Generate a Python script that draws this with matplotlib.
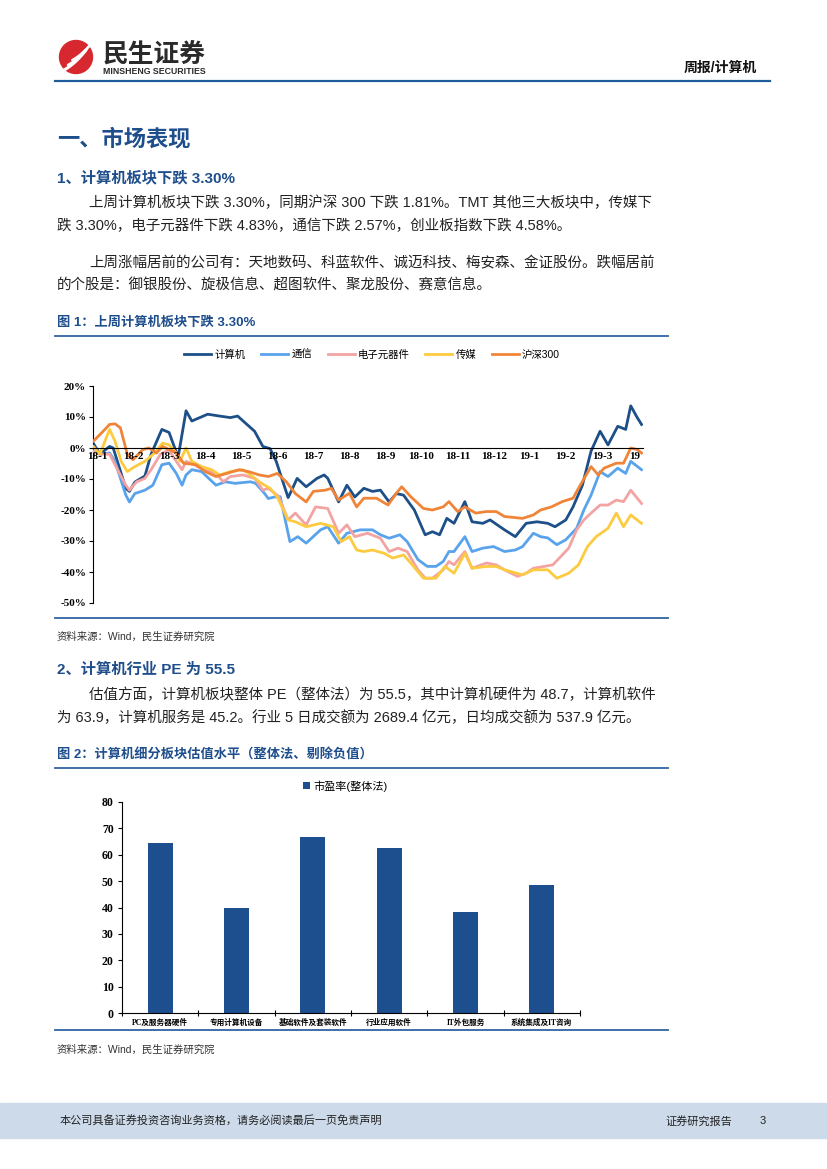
import matplotlib
matplotlib.use("Agg")
import matplotlib.pyplot as plt
import numpy as np
from matplotlib.patches import Circle, Rectangle

# ---------------------------------------------------------------- data
months = ["18-1", "18-2", "18-3", "18-4", "18-5", "18-6", "18-7", "18-8", "18-9",
          "18-10", "18-11", "18-12", "19-1", "19-2", "19-3", "19"]

# 计算机
jsj_m = [-0.1, 0.08, 0.35, 0.45, 0.8, 0.9, 1.05, 1.33, 1.5, 1.8, 2.0, 2.25, 2.47, 2.63, 3.07,
         3.4, 3.7, 3.9, 4.37, 4.6, 4.8, 4.97, 5.3, 5.4, 5.55, 5.8, 6.1, 6.3, 6.4, 6.7, 6.93,
         7.15, 7.4, 7.64, 7.86, 8.1, 8.3, 8.5, 8.8, 9.1, 9.3, 9.5, 9.7, 9.9, 10.2, 10.4, 10.7,
         10.9, 11.3, 11.6, 11.9, 12.2, 12.5, 12.7, 13.0, 13.2, 13.46, 13.7, 13.95, 14.17,
         14.44, 14.66, 14.8, 14.98, 15.1]
jsj_v = [1.5, -2, 0.5, 0, -13, -14, -11, -9, -2, 6, 5, -3, 12, 8.7, 10.9, 10.3, 9.8, 10.3,
         5.4, 0.5, -0.2, -4.3, -16, -13.6, -9.8, -12.5, -9.8, -8.7, -9.8, -17.4, -12, -15.8,
         -13, -14, -13.6, -17.4, -14.7, -15.2, -20, -28, -27, -28, -22.7, -24.3, -17.3, -23.8,
         -24.3, -23.2, -26.4, -28.6, -24.3, -23.8, -24.3, -25.4, -23.2, -19, -12, -1, 5.4, 1,
         7, 6, 13.6, 9.8, 7.6]

# 通信
tx_m = [-0.1, 0.08, 0.35, 0.5, 0.8, 0.9, 1.05, 1.33, 1.55, 1.8, 2.0, 2.2, 2.36, 2.47, 2.63,
        2.9, 3.1, 3.3, 3.56, 3.83, 4.26, 4.4, 4.65, 4.75, 4.92, 5.08, 5.35, 5.57, 5.8, 6.2,
        6.4, 6.7, 6.93, 7.3, 7.64, 7.86, 8.1, 8.4, 8.6, 8.9, 9.16, 9.4, 9.6, 9.76, 9.9, 10.2,
        10.4, 10.7, 11.0, 11.3, 11.6, 11.8, 12.1, 12.3, 12.5, 12.75, 13.0, 13.3, 13.5, 13.7,
        13.95, 14.17, 14.44, 14.66, 14.8, 15.1]
tx_v = [-1, -2, -1.6, -4.3, -15.2, -17.4, -14.7, -13.6, -12, -5.4, -4.9, -8.2, -12, -8.7,
        -7, -7.6, -9.8, -12, -10.9, -11.4, -10.9, -11.4, -14.7, -16.3, -15.8, -15.7, -30.2,
        -28.6, -30.7, -26.4, -25.4, -30.7, -27.5, -26.4, -26.4, -28, -29.1, -28, -30.2, -36,
        -38.2, -38.2, -36.6, -33.4, -33.4, -28.6, -33.4, -32.3, -31.8, -33.4, -32.9, -31.8,
        -27.5, -28.6, -29, -31.2, -29.6, -25.9, -20, -15.2, -7.6, -9.2, -6.5, -8.2, -4.3, -7]

# 电子元器件
dz_m = [-0.1, 0.08, 0.35, 0.5, 0.8, 0.9, 1.1, 1.33, 1.5, 1.76, 2.0, 2.14, 2.36, 2.47, 2.7,
        2.96, 3.3, 3.5, 3.7, 4.05, 4.37, 4.6, 4.75, 5.03, 5.3, 5.5, 5.8, 6.06, 6.4, 6.7,
        6.93, 7.15, 7.5, 7.86, 8.1, 8.35, 8.6, 8.9, 9.1, 9.3, 9.6, 9.76, 9.9, 10.2, 10.4,
        10.8, 11.07, 11.3, 11.66, 11.9, 12.1, 12.4, 12.64, 12.86, 13.08, 13.3, 13.5, 13.7,
        13.95, 14.17, 14.4, 14.6, 14.8, 15.1]
dz_v = [-1, -2, -2, -5.4, -12, -13.6, -10.9, -9.8, -7, -2, -0.5, -3.3, -7, -4.3, -5.4, -7,
        -8.2, -10.9, -9.2, -8.7, -9.8, -13.6, -13, -15.5, -23.2, -21, -24.8, -19, -19.5,
        -27.5, -24.8, -28.6, -27.5, -29.1, -33.4, -32.3, -33.4, -39.3, -42, -42, -39.3,
        -36.6, -37.7, -33.4, -38.8, -37.1, -37.7, -39.3, -41.4, -40.4, -38.8, -38.2, -37.7,
        -35, -32.3, -26.4, -23.2, -21, -18.4, -18.4, -16.8, -17.3, -13.6, -17.9]

# 传媒
cm_m = [-0.1, 0.08, 0.35, 0.5, 0.67, 0.84, 1.05, 1.33, 1.6, 1.82, 2.0, 2.2, 2.3, 2.47, 2.63,
        2.9, 3.18, 3.4, 3.7, 4.05, 4.26, 4.5, 4.65, 4.8, 5.0, 5.3, 5.5, 5.8, 6.2, 6.55, 6.77,
        7.0, 7.2, 7.4, 7.64, 7.97, 8.2, 8.5, 8.7, 9.05, 9.4, 9.65, 9.9, 10.2, 10.4, 10.8,
        11.07, 11.3, 11.8, 12.1, 12.5, 12.75, 13.08, 13.35, 13.6, 13.84, 14.17, 14.4, 14.6,
        14.8, 15.1]
cm_v = [0.5, -2, 6, 2.2, -4.3, -7.6, -6, -4.3, -1.6, 1.6, 1, -1.6, -4.3, 0, -4.3, -6, -7,
        -8.7, -7.6, -7, -8.7, -10.9, -12, -13, -15.8, -23.2, -23.8, -25.4, -24.3, -25.4,
        -30.2, -28.6, -32.9, -33.4, -32.9, -34, -35.5, -34.5, -37.1, -42, -42, -38.2, -40.4,
        -34, -38.8, -38.2, -38.2, -39.3, -40.9, -39.3, -39.3, -42, -40.4, -37.7, -31.8,
        -28.6, -25.9, -21, -25.4, -21.6, -24.3]

# 沪深300
hs_m = [-0.1, 0.13, 0.35, 0.5, 0.65, 0.84, 1.0, 1.27, 1.44, 1.65, 1.82, 2.0, 2.2, 2.4, 2.74,
        3.0, 3.3, 3.6, 3.94, 4.2, 4.5, 4.75, 5.0, 5.25, 5.5, 5.8, 6.0, 6.33, 6.5, 6.7, 7.0,
        7.2, 7.4, 7.75, 8.07, 8.3, 8.45, 8.7, 9.05, 9.3, 9.6, 9.76, 10.0, 10.2, 10.5, 10.8,
        11.07, 11.3, 11.8, 12.1, 12.3, 12.6, 12.9, 13.2, 13.4, 13.7, 13.9, 14.06, 14.4, 14.6,
        14.8, 14.98, 15.1]
hs_v = [2.2, 4.9, 7.6, 7.8, 6.5, -2, -3.8, -0.5, 0, -1.6, 0.5, -0.5, -1.6, -4.9, -5.4, -7.6,
        -9.2, -8.2, -7, -7.6, -8.7, -9.2, -8.2, -10.9, -14.7, -17.4, -14, -13.6, -13, -16.8,
        -14.6, -19, -16.2, -16.2, -18.4, -14.6, -12.5, -15.7, -19.5, -20, -19, -17.3, -20.5,
        -19, -21, -20.5, -20.5, -22.1, -22.7, -21.6, -20, -19, -17.3, -16.2, -12, -6, -8.7,
        -6.5, -4.9, -4.9, 0, -0.5, -1.6]

pe_cats = ["PC及服务器硬件", "专用计算机设备", "基础软件及套装软件", "行业应用软件",
           "IT外包服务", "系统集成及IT咨询"]
pe_vals = [64.6, 39.7, 66.6, 62.4, 38.3, 48.7]

# ---------------------------------------------------------------- page
W, H = 827, 1169
CJK = ["Liberation Sans", "Noto Sans CJK SC", "DejaVu Sans"]
SERIF = ["Liberation Serif", "Noto Sans CJK SC"]
BLUE = "#1F4E8C"
LINE = "#2F64A0"

fig = plt.figure(figsize=(W / 100, H / 100), dpi=100)
bg = fig.add_axes([0, 0, 1, 1])
bg.set_xlim(0, W)
bg.set_ylim(H, 0)
bg.axis("off")

# logo
bg.add_patch(Circle((76, 57), 16.5, color="#D7282F"))
t = np.linspace(0, 1, 30)
for k in range(3):
    xs = 64 + 4 * k + 22 * t
    ys = 70 - 2 * k - 20 * t + 8 * t * (1 - t)
    bg.plot(xs, ys - 3 * k, color="white", lw=2.2 - 0.4 * k, solid_capstyle="round")
bg.text(103, 54, "民生证券", fontsize=18.5, fontweight="bold", family=CJK,
        color="#2A2A2A", va="center")
bg.text(103, 72, "MINSHENG SECURITIES", fontsize=6.3, fontweight="bold", family=CJK,
        color="#2A2A2A", va="center")
bg.text(757, 68, "周报/计算机", fontsize=10, fontweight="bold", family=CJK,
        color="#111111", va="center", ha="right")
bg.plot([55, 770], [81, 81], color="#1F5C99", lw=1.6)

# headings and body
bg.text(57, 140, "一、市场表现", fontsize=16, fontweight="bold", family=CJK,
        color=BLUE, va="center")
bg.text(57, 178, "1、计算机板块下跌 3.30%", fontsize=11, fontweight="bold", family=CJK,
        color=BLUE, va="center")
body1 = ["上周计算机板块下跌 3.30%，同期沪深 300 下跌 1.81%。TMT 其他三大板块中，传媒下",
         "跌 3.30%，电子元器件下跌 4.83%，通信下跌 2.57%，创业板指数下跌 4.58%。",
         "上周涨幅居前的公司有：天地数码、科蓝软件、诚迈科技、梅安森、金证股份。跌幅居前",
         "的个股是：御银股份、旋极信息、超图软件、聚龙股份、赛意信息。"]
for txt, x, y in zip(body1, [89, 57, 89, 57], [203, 226, 263, 286]):
    bg.text(x, y, txt, fontsize=10.45, family=CJK, color="#222222", va="center")

bg.text(57, 323, "图 1：上周计算机板块下跌 3.30%", fontsize=9.5, fontweight="bold",
        family=CJK, color=BLUE, va="center")
bg.plot([55, 668], [336, 336], color=LINE, lw=1.3)
bg.plot([55, 668], [618, 618], color=LINE, lw=1.3)
bg.text(57, 637, "资料来源：Wind，民生证券研究院", fontsize=7.5, family=CJK,
        color="#333333", va="center")

bg.text(57, 670, "2、计算机行业 PE 为 55.5", fontsize=11, fontweight="bold", family=CJK,
        color=BLUE, va="center")
body2 = ["估值方面，计算机板块整体 PE（整体法）为 55.5，其中计算机硬件为 48.7，计算机软件",
         "为 63.9，计算机服务是 45.2。行业 5 日成交额为 2689.4 亿元，日均成交额为 537.9 亿元。"]
for txt, x, y in zip(body2, [89, 57], [695, 718]):
    bg.text(x, y, txt, fontsize=10.45, family=CJK, color="#222222", va="center")

bg.text(57, 755, "图 2：计算机细分板块估值水平（整体法、剔除负值）", fontsize=9.5,
        fontweight="bold", family=CJK, color=BLUE, va="center")
bg.plot([55, 668], [768, 768], color=LINE, lw=1.3)
bg.plot([55, 668], [1030, 1030], color=LINE, lw=1.3)
bg.text(57, 1050, "资料来源：Wind，民生证券研究院", fontsize=7.5, family=CJK,
        color="#333333", va="center")

# footer
bg.add_patch(Rectangle((0, 1103), W, 35, color="#CDDAE9", zorder=0))
bg.text(60, 1121, "本公司具备证券投资咨询业务资格，请务必阅读最后一页免责声明", fontsize=8,
        family=CJK, color="#222222", va="center")
bg.text(665, 1121, "证券研究报告", fontsize=8, family=CJK, color="#222222", va="center")
bg.text(760, 1121, "3", fontsize=8, family=CJK, color="#222222", va="center")

# ---------------------------------------------------------------- figure 1
ax1 = fig.add_axes([93 / W, 1 - 603 / H, 550 / W, 217 / H])
series = [(jsj_m, jsj_v, "计算机", "#1D4F88"),
          (tx_m, tx_v, "通信", "#58A3EC"),
          (dz_m, dz_v, "电子元器件", "#F4A3A3"),
          (cm_m, cm_v, "传媒", "#FCCB40"),
          (hs_m, hs_v, "沪深300", "#F0853A")]
handles = []
for i, (m, v, name, col) in enumerate(series):
    ln, = ax1.plot(m, v, color=col, lw=2.0, label=name, zorder=2 + i,
                   solid_joinstyle="round")
    handles.append(ln)
ax1.set_xlim(-0.11, 15.14)
ax1.set_ylim(-50, 20)
ax1.set_yticks(np.arange(-50, 21, 10))
ax1.set_yticklabels([f"{v}%" for v in range(-50, 21, 10)])
ticks = list(range(15)) + [14.9]
ax1.set_xticks(ticks)
ax1.set_xticklabels(months)
for s in ["top", "right"]:
    ax1.spines[s].set_visible(False)
ax1.spines["bottom"].set_position(("data", 0))
ax1.spines["bottom"].set_zorder(10)
ax1.xaxis.set_zorder(10)
ax1.tick_params(axis="y", direction="out", length=3, width=0.8, pad=2)
ax1.tick_params(axis="x", direction="out", length=0, pad=3)
for lab in ax1.get_xticklabels() + ax1.get_yticklabels():
    lab.set_family(SERIF)
    lab.set_fontweight("bold")
    lab.set_fontsize(8)
ax1.patch.set_alpha(0)
fig.legend(handles=handles, loc="center", bbox_to_anchor=(372 / W, 1 - 355 / H),
           ncol=5, frameon=False, handlelength=2.6, columnspacing=1.5, handletextpad=0.3,
           prop={"family": CJK, "size": 7.5})

# ---------------------------------------------------------------- figure 2
ax2 = fig.add_axes([122 / W, 1 - 1013 / H, 458 / W, 211 / H])
xs = np.arange(len(pe_cats))
bars = ax2.bar(xs, pe_vals, width=0.33, color="#1D4F8E", label="市盈率(整体法)")
ax2.set_xlim(-0.5, len(pe_cats) - 0.5)
ax2.set_ylim(0, 80)
ax2.set_yticks(np.arange(0, 81, 10))
ax2.set_xticks(xs)
ax2.set_xticklabels(pe_cats)
ax2.set_xticks(np.arange(-0.5, len(pe_cats)), minor=True)
for s in ["top", "right"]:
    ax2.spines[s].set_visible(False)
ax2.tick_params(axis="y", direction="out", length=3, width=0.8, pad=3)
ax2.tick_params(axis="x", which="major", length=0, pad=4)
ax2.tick_params(axis="x", which="minor", direction="inout", length=4, width=0.8)
for lab in ax2.get_yticklabels():
    lab.set_family(SERIF)
    lab.set_fontweight("bold")
    lab.set_fontsize(8.5)
for lab in ax2.get_xticklabels():
    lab.set_family(["Liberation Serif", "Noto Sans CJK SC"])
    lab.set_fontweight("bold")
    lab.set_fontsize(5.5)
ax2.patch.set_alpha(0)
fig.legend(handles=[bars], loc="center", bbox_to_anchor=(345 / W, 1 - 786 / H),
           frameon=False, handlelength=0.6, handleheight=0.6, handletextpad=0.3,
           prop={"family": CJK, "size": 8})

fig.savefig("out.png", dpi=100)
